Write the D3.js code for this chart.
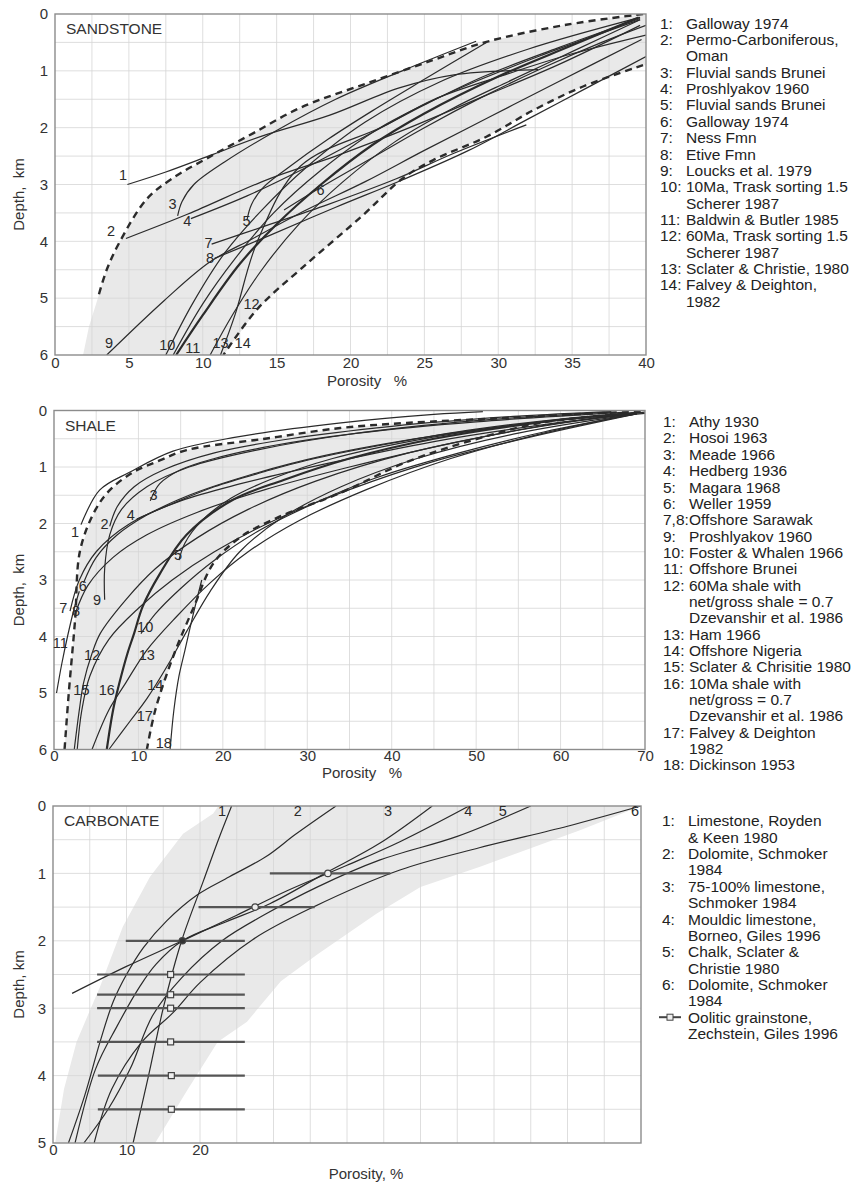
<!DOCTYPE html>
<html>
<head>
<meta charset="utf-8">
<script src="https://cdn.jsdelivr.net/npm/d3@7"></script>
<style>
  body { margin: 0; background: #fff; }
  svg { display: block; }
</style>
</head>
<body>
<svg id="fig" width="860" height="1184"></svg>
<script>
// ---------- data (porosity %, depth km) ----------

// sandstone
const sandEnvUpper = [[39.8,0],[34.6,0.19],[29.2,0.49],[25.6,0.81],[21.1,1.22],[16.6,1.65],[13.4,2.1],[10.7,2.48],[7.9,2.9],[6.2,3.26],[4.4,4.0],[3.5,4.5],[2.9,5.0]];
const sandEnvLower = [[39.8,0.9],[35.7,1.28],[32.4,1.69],[29.2,2.16],[25.6,2.57],[23.5,2.9],[20.8,3.55],[16.8,4.45],[13.7,5.19],[11.4,6.0]];
const sandShadeLeft = [[2.9,5.0],[2.3,5.5],[1.9,6.0]];
const sandCurves = [
  [[4.9,3.0],[7.5,2.78],[10.7,2.47],[14,2.15],[18.6,1.78],[23.3,1.3],[27,1.07],[32.7,0.98]],
  [[4.8,3.95],[9,3.52],[14.5,2.9],[19,2.5],[24,2.0],[29,1.45],[34,0.9],[39.6,0.2]],
  [[8.3,3.55],[8.6,3.3],[9.4,3.0],[11.5,2.6],[15,2.05],[19,1.5],[23.5,1.0],[28.5,0.48]],
  [[9.2,3.6],[13,3.2],[17,2.7],[21,2.15],[25,1.6],[29,1.1],[34,0.6],[39.6,0.08]],
  [[13.0,3.62],[13.3,3.35],[14.1,3.05],[15.8,2.7],[18.5,2.2],[21.5,1.7],[25,1.15],[29.2,0.5]],
  [[15.5,3.45],[18,3.05],[21,2.6],[25,2.0],[29,1.45],[33,0.95],[37,0.5],[40,0.2]],
  [[10.6,4.05],[14,3.75],[18.5,3.35],[23.1,2.9],[27,2.45],[31.9,1.95]],
  [[10.8,4.3],[14.5,3.9],[19,3.4],[23.5,2.92],[28,2.4],[32,1.85],[36,1.3],[40,0.75]],
  [[3.5,6.0],[7.4,5.04],[10.5,4.36],[13.4,3.95],[17,3.45],[21,2.95],[25,2.4],[29.5,1.8],[34,1.2],[39.7,0.45]],
  [[7.5,6.0],[9.3,5.1],[11.5,4.2],[14,3.45],[17,2.7],[21,1.9],[26,1.2],[32,0.62],[39.6,0.06]],
  [[8.0,6.0],[10,5.1],[12.2,4.3],[14.8,3.5],[18,2.75],[22,2.0],[27,1.35],[33,0.72],[39.6,0.1]],
  [[11.2,6.0],[12.2,5.28],[13.7,4.0],[16.6,2.68],[22.2,1.98],[25.6,1.51],[30.1,1.1],[35,0.7],[40,0.37]],
  [[10.5,6.0],[12,5.3],[14,4.5],[16.5,3.7],[19.5,2.95],[23,2.25],[27,1.65],[31,1.15],[35.5,0.6],[39.6,0.1]]
];
const sandBold = [[8.2,6.0],[10,5.3],[12.5,4.4],[15,3.7],[18,3.0],[21.5,2.3],[25,1.75],[30,1.1],[35,0.55],[39.5,0.06]];
const sandLabels = [['1',4.6,2.83],['2',3.8,3.82],['3',7.95,3.34],['4',8.96,3.64],['5',12.96,3.64],['6',17.97,3.1],['7',10.4,4.03],['8',10.5,4.3],['9',3.66,5.79],['10',7.6,5.82],['11',9.33,5.88],['12',13.3,5.1],['13',11.2,5.79],['14',12.7,5.79]];
const sandLegend = [['1:',['Galloway 1974']],['2:',['Permo-Carboniferous,','Oman']],['3:',['Fluvial sands Brunei']],['4:',['Proshlyakov 1960']],['5:',['Fluvial sands Brunei']],['6:',['Galloway 1974']],['7:',['Ness Fmn']],['8:',['Etive Fmn']],['9:',['Loucks et al. 1979']],['10:',['10Ma, Trask sorting 1.5','Scherer 1987']],['11:',['Baldwin & Butler 1985']],['12:',['60Ma, Trask sorting 1.5','Scherer 1987']],['13:',['Sclater & Christie, 1980']],['14:',['Falvey & Deighton,','1982']]];

// shale
const shaleEnvUpper = [[69.5,0.03],[65.6,0.04],[53.7,0.13],[41.8,0.22],[33.9,0.31],[25,0.5],[15.7,0.7],[12.6,0.88],[9.4,1.09],[6.6,1.41],[4.9,1.76],[3.1,2.47],[2.5,3.7],[1.75,5.0],[1.25,6.0]];
const shaleEnvLower = [[67.5,0.06],[57.6,0.22],[49.7,0.52],[41.8,0.91],[33.9,1.46],[26.4,1.9],[22.1,2.24],[18.9,2.7],[16.5,3.5],[14.25,4.3],[12,5.3],[11,6.0]];
const shaleCurves = [
  [[3.2,2.02],[5.4,1.41],[9,1.09],[14.1,0.72],[21.2,0.48],[34,0.22],[45,0.07],[50.8,0.02]],
  [[6.6,2.05],[7.5,1.7],[9.5,1.35],[13,1.05],[19,0.75],[28,0.5],[40,0.28],[55,0.1],[66,0.02]],
  [[11.4,1.6],[12.5,1.3],[15,1.05],[19,0.85],[26,0.62],[36,0.4],[50,0.2],[68,0.03]],
  [[9.8,1.92],[14,1.65],[19,1.35],[25,1.08],[30,0.88],[40,0.58],[50,0.33],[60,0.15],[69,0.04]],
  [[14.8,2.65],[15.5,2.35],[17.5,1.95],[21,1.55],[26,1.2],[33,0.85],[42,0.55],[55,0.25],[69,0.04]],
  [[3.5,3.05],[5,2.6],[7.5,2.2],[11,1.85],[16,1.5],[23,1.15],[32,0.8],[45,0.45],[58,0.2],[69,0.05]],
  [[1.9,3.55],[3,3.0],[5,2.5],[9,2.0],[15,1.6],[22,1.3],[32,0.95],[45,0.55],[58,0.25],[70,0.03]],
  [[2.5,3.6],[4,3.1],[7,2.6],[11,2.2],[17,1.8],[25,1.4],[35,1.0],[48,0.55],[60,0.22],[70,0.05]],
  [[6,3.35],[6,2.8],[6.6,2.2],[8,1.75],[11,1.35],[16,1.0],[24,0.7],[35,0.42],[50,0.18],[66,0.03]],
  [[10.3,3.95],[12,3.6],[15,3.15],[19,2.65],[24,2.15],[30,1.7],[38,1.2],[48,0.75],[58,0.38],[69,0.06]],
  [[0.3,5.0],[0.9,4.5],[1.6,4.0],[2.4,3.5],[3.0,3.2]],
  [[2.75,6],[3.3,5.3],[4.25,4.7],[6.5,4.05],[10,3.5],[14,3.0],[19,2.5],[26,1.95],[35,1.4],[45,0.9],[57,0.45],[69,0.06]],
  [[4.5,6],[6.5,5.3],[8.5,4.82],[11,4.24],[14.5,3.65],[18.5,3.05],[23,2.5],[29,1.95],[37,1.4],[47,0.85],[58,0.4],[69,0.05]],
  [[6.5,6],[9,5.5],[11,5.1],[13.5,4.5],[15.75,3.9],[18.5,3.2],[22,2.5],[27,1.9],[34,1.35],[43,0.85],[55,0.4],[69,0.06]],
  [[2.4,6],[3.0,5.3],[3.5,4.82],[4.5,4.3],[5.5,3.94],[8.5,3.35],[12,2.8],[17,2.25],[23,1.75],[31,1.25],[42,0.75],[55,0.35],[69,0.04]],
  [[13.75,6],[14.2,5.3],[14.8,4.7],[15.5,4.25],[16.5,3.6],[17.5,3.0]]
];
const shaleBold = [[6.25,6],[7,5.3],[7.75,4.82],[8.7,4.3],[9.5,3.94],[10.5,3.47],[12.5,2.9],[15.7,2.2],[21.2,1.58],[27.2,1.23],[35,0.85],[45,0.5],[58,0.2],[69,0.04]];
const shaleLabels = [['1',2.5,2.15],['2',6.0,2.0],['3',11.8,1.5],['4',9.1,1.85],['5',14.7,2.55],['6',3.4,3.1],['7',1.1,3.5],['8',2.6,3.55],['9',5.1,3.35],['10',10.8,3.83],['11',0.75,4.12],['12',4.5,4.32],['13',11,4.32],['14',12,4.85],['15',3.25,4.94],['16',6.25,4.94],['17',10.75,5.41],['18',13,5.88]];
const shaleLegend = [['1:',['Athy 1930']],['2:',['Hosoi 1963']],['3:',['Meade 1966']],['4:',['Hedberg 1936']],['5:',['Magara 1968']],['6:',['Weller 1959']],['7,8:',['Offshore Sarawak']],['9:',['Proshlyakov 1960']],['10:',['Foster & Whalen 1966']],['11:',['Offshore Brunei']],['12:',['60Ma shale with','net/gross shale = 0.7','Dzevanshir et al. 1986']],['13:',['Ham 1966']],['14:',['Offshore Nigeria']],['15:',['Sclater & Chrisitie 1980']],['16:',['10Ma shale with','net/gross = 0.7','Dzevanshir et al. 1986']],['17:',['Falvey & Deighton','1982']],['18:',['Dickinson 1953']]];

// carbonate
const carbShade = [[22.5,0],[80,0],[71.7,0.36],[58.1,0.9],[50,1.2],[44,1.6],[36,2.2],[31,2.6],[26.4,3.2],[22.4,3.5],[18.2,4.23],[13.9,5.0],[0.3,5.0],[1.5,4.2],[3.2,3.5],[6.4,2.68],[9.5,1.79],[13.2,1.05],[17.7,0.41],[21.8,0.11]];
const carbCurves = [
  [[24.3,0],[22.5,0.5],[20.5,1.1],[17.5,2],[15,3],[13,4],[10.9,5]],
  [[38.5,0],[33,0.42],[29,0.75],[24,1.05],[19.6,1.32],[15.5,1.7],[12.3,2.1],[10,2.5],[8.2,2.9],[6.4,3.5],[4.3,4.3],[2.1,5]],
  [[51.6,0],[44.5,0.55],[37,1.0],[29.5,1.45],[23.5,1.72],[17.6,2.0],[14,2.35],[11.8,2.68],[8.7,3.27],[5.8,3.9],[3.0,5]],
  [[2.6,2.78],[10,2.38],[17.6,2.0],[25,1.62],[32,1.25],[40,0.88],[47.2,0.53],[56.6,0]],
  [[65,0],[55,0.45],[44.5,0.8],[36,1.2],[29,1.6],[23,2.0],[17.5,2.55],[13.6,3.1],[10.5,3.9],[7.5,4.5],[4.2,5]],
  [[80,0],[70,0.3],[58,0.62],[47.2,0.95],[35.4,1.5],[27.2,1.98],[20,2.62],[16.3,3.07],[12.1,3.5],[8,4.2],[5.6,5]]
];
const carbLabels = [['1',23,0.08],['2',33.3,0.08],['3',45.6,0.08],['4',56.5,0.08],['5',61.2,0.08],['6',79.2,0.08]];
const oolDepth = [1.0,1.5,2.0,2.5,2.8,3.0,3.5,4.0,4.5];
const oolMid = [37.4,27.5,17.6,16,16,16,16,16.1,16.1];
const oolLo = [29.5,19.8,9.9,6.0,6.0,6.0,6.0,6.1,6.1];
const oolHi = [45.9,35.6,26.1,26.1,26.1,26.1,26.1,26.1,26.1];
const oolMark = ['circle','circle','dot','square','square','square','square','square','square'];
const carbLegend = [['1:',['Limestone, Royden','& Keen 1980']],['2:',['Dolomite, Schmoker','1984']],['3:',['75-100% limestone,','Schmoker 1984']],['4:',['Mouldic limestone,','Borneo, Giles 1996']],['5:',['Chalk, Sclater &','Christie 1980']],['6:',['Dolomite, Schmoker','1984']],['',['Oolitic grainstone,','Zechstein, Giles 1996']]];

// ---------- drawing ----------
const FONT = '"Liberation Sans", Arial, Helvetica, sans-serif';
const INK = '#2b2b2b';
const svg = d3.select('#fig');

const panels = [
  {title: 'SANDSTONE', l: 55, r: 646, t: 14, b: 355, xMax: 40, yMax: 6, xGrid: 2.5, xTicks: d3.range(0, 41, 5),
   xLab: 'Porosity   %', xLabX: 367, tickDy: 14, labDy: 31, legX: 660, legTx: 686, legY: 23.3},
  {title: 'SHALE', l: 54, r: 645, t: 410.5, b: 749.5, xMax: 70, yMax: 6, xGrid: 5, xTicks: d3.range(0, 71, 10),
   xLab: 'Porosity   %', xLabX: 362, tickDy: 13, labDy: 28, legX: 663, legTx: 689, legY: 421.7},
  {title: 'CARBONATE', l: 53, r: 641, t: 806, b: 1143, xMax: 80, yMax: 5, xGrid: 5, xTicks: [0, 10, 20],
   xLab: 'Porosity, %', xLabX: 366, tickDy: 13, labDy: 36, legX: 662, legTx: 688, legY: 821}
];

panels.forEach(p => {
  p.x = d3.scaleLinear().domain([0, p.xMax]).range([p.l, p.r]);
  p.y = d3.scaleLinear().domain([0, p.yMax]).range([p.t, p.b]);
  p.g = svg.append('g');
  p.clipId = 'clip-' + p.title;
  svg.append('clipPath').attr('id', p.clipId).append('rect')
    .attr('x', p.l).attr('y', p.t).attr('width', p.r - p.l).attr('height', p.b - p.t);
  p.plot = p.g.append('g').attr('clip-path', `url(#${p.clipId})`);
});

function line(p) {
  return d3.line().x(d => p.x(d[0])).y(d => p.y(d[1])).curve(d3.curveCatmullRom.alpha(0.5));
}

function drawShade(p, pts) {
  p.plot.append('path')
    .attr('d', d3.line().x(d => p.x(d[0])).y(d => p.y(d[1])).curve(d3.curveLinearClosed)(pts))
    .attr('fill', '#e9e9e9').attr('stroke', 'none');
}

function drawGrid(p) {
  const gg = p.plot.append('g').attr('stroke', '#d6d6d6').attr('stroke-width', 0.8);
  d3.range(p.xGrid, p.xMax, p.xGrid).forEach(v => {
    gg.append('line').attr('x1', p.x(v)).attr('x2', p.x(v)).attr('y1', p.t).attr('y2', p.b);
  });
  d3.range(0.5, p.yMax, 0.5).forEach(v => {
    gg.append('line').attr('y1', p.y(v)).attr('y2', p.y(v)).attr('x1', p.l).attr('x2', p.r);
  });
}

function drawCurves(p, curves, width) {
  p.plot.append('g').selectAll('path').data(curves).join('path')
    .attr('d', line(p))
    .attr('fill', 'none').attr('stroke', INK).attr('stroke-width', width);
}

function drawDashed(p, pts) {
  p.plot.append('path').attr('d', line(p)(pts))
    .attr('fill', 'none').attr('stroke', INK).attr('stroke-width', 2.4).attr('stroke-dasharray', '7,5');
}

function drawLabels(p, labels) {
  p.g.append('g').selectAll('text').data(labels).join('text')
    .attr('x', d => p.x(d[1])).attr('y', d => p.y(d[2]))
    .attr('dy', '0.35em').attr('text-anchor', 'middle')
    .attr('font-family', FONT).attr('font-size', 14.5).attr('fill', INK)
    .text(d => d[0]);
}

function drawFrame(p) {
  const g = p.g;
  g.append('rect').attr('x', p.l).attr('y', p.t).attr('width', p.r - p.l).attr('height', p.b - p.t)
    .attr('fill', 'none').attr('stroke', '#8c8c8c').attr('stroke-width', 1.4);
  g.append('text').attr('x', p.l + 11).attr('y', p.t + 15).attr('dy', '0.35em')
    .attr('font-family', FONT).attr('font-size', 15.5).attr('fill', '#333').text(p.title);
  const ya = d3.axisLeft(p.y).tickValues(d3.range(0, p.yMax + 1, 1)).tickSize(0).tickPadding(7).tickFormat(d3.format('d'));
  const ax = g.append('g').attr('transform', `translate(${p.l},0)`).call(ya);
  ax.select('.domain').remove();
  ax.selectAll('text').attr('font-family', FONT).attr('font-size', 15).attr('fill', '#333');
  const xa = d3.axisBottom(p.x).tickValues(p.xTicks).tickSize(0).tickPadding(0).tickFormat(d3.format('d'));
  const bx = g.append('g').attr('transform', `translate(0,${p.b + p.tickDy - 12})`).call(xa);
  bx.select('.domain').remove();
  bx.selectAll('text').attr('font-family', FONT).attr('font-size', 15).attr('fill', '#333');
  g.append('text').attr('x', p.xLabX).attr('y', p.b + p.labDy).attr('text-anchor', 'middle')
    .attr('font-family', FONT).attr('font-size', 15).attr('fill', '#333')
    .style('white-space', 'pre').text(p.xLab);
  const cy = (p.t + p.b) / 2 + 10;
  g.append('text').attr('transform', `translate(24,${cy}) rotate(-90)`).attr('text-anchor', 'middle')
    .attr('font-family', FONT).attr('font-size', 15).attr('fill', '#333')
    .style('white-space', 'pre').text(p.title === 'CARBONATE' ? 'Depth, km' : 'Depth,  km');
}

function drawLegend(p, items) {
  const lg = p.g.append('g').attr('font-family', FONT).attr('font-size', 15.5).attr('fill', '#222');
  let row = 0;
  const step = 16.35;
  items.forEach(([num, lines]) => {
    const yy = p.legY + row * step;
    if (num) lg.append('text').attr('x', p.legX).attr('y', yy).attr('dy', '0.35em').text(num);
    lines.forEach((t, i) => {
      lg.append('text').attr('x', p.legTx).attr('y', p.legY + (row + i) * step).attr('dy', '0.35em').text(t);
    });
    row += lines.length;
  });
  return lg;
}

const [pS, pH, pC] = panels;

// sandstone
drawShade(pS, sandEnvUpper.concat(sandShadeLeft).concat(sandEnvLower.slice().reverse()).concat([[40,0.9],[40,0]]));
drawGrid(pS);
drawCurves(pS, sandCurves, 1.2);
drawCurves(pS, [sandBold], 2.2);
drawDashed(pS, sandEnvUpper);
drawDashed(pS, sandEnvLower);
drawFrame(pS);
drawLabels(pS, sandLabels);
drawLegend(pS, sandLegend);

// shale
drawShade(pH, shaleEnvUpper.concat(shaleEnvLower.slice().reverse()).concat([[70,0.04]]));
drawGrid(pH);
drawCurves(pH, shaleCurves, 1.2);
drawCurves(pH, [shaleBold], 2.2);
drawDashed(pH, shaleEnvUpper);
drawDashed(pH, shaleEnvLower);
drawFrame(pH);
drawLabels(pH, shaleLabels);
drawLegend(pH, shaleLegend);

// carbonate
drawShade(pC, carbShade);
drawGrid(pC);
drawCurves(pC, carbCurves, 1.2);
const bars = pC.plot.append('g');
oolDepth.forEach((z, i) => {
  bars.append('line').attr('x1', pC.x(oolLo[i])).attr('x2', pC.x(oolHi[i]))
    .attr('y1', pC.y(z)).attr('y2', pC.y(z)).attr('stroke', '#555').attr('stroke-width', 2.2);
  const cx = pC.x(oolMid[i]), cy = pC.y(z);
  if (oolMark[i] === 'square') {
    bars.append('rect').attr('x', cx - 3).attr('y', cy - 3).attr('width', 6).attr('height', 6)
      .attr('fill', '#eee').attr('stroke', '#444').attr('stroke-width', 1.2);
  } else {
    bars.append('circle').attr('cx', cx).attr('cy', cy).attr('r', 3.2)
      .attr('fill', oolMark[i] === 'dot' ? '#333' : '#eee').attr('stroke', '#444').attr('stroke-width', 1.2);
  }
});
drawFrame(pC);
drawLabels(pC, carbLabels);
const lgC = drawLegend(pC, carbLegend);
const ly = pC.legY + 12 * 16.35;
lgC.append('line').attr('x1', 659).attr('x2', 681).attr('y1', ly).attr('y2', ly).attr('stroke', '#444').attr('stroke-width', 2);
lgC.append('rect').attr('x', 667).attr('y', ly - 3).attr('width', 6).attr('height', 6).attr('fill', '#eee').attr('stroke', '#444');
</script>
</body>
</html>
